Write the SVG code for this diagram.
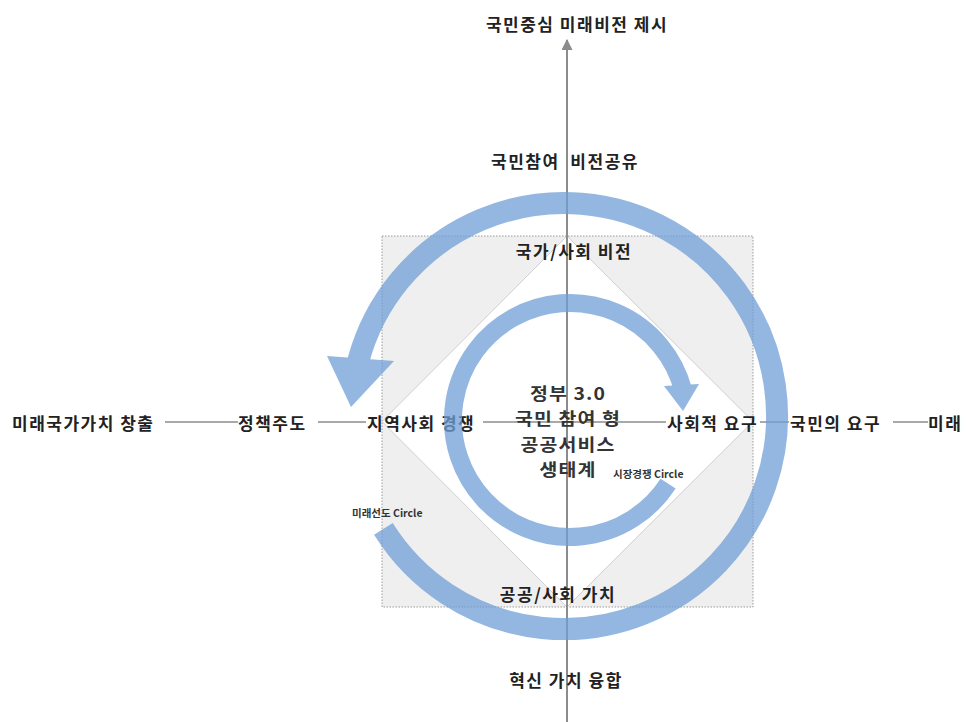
<svg xmlns="http://www.w3.org/2000/svg" width="968" height="722" viewBox="0 0 968 722">
<defs>
<style>
.lbl{font-family:"Noto Sans CJK KR","Noto Sans",sans-serif;font-weight:bold;font-size:17px;letter-spacing:1.5px;fill:#222}
.mid{text-anchor:middle}
.ctr{font-family:"Noto Sans CJK KR","Noto Sans",sans-serif;font-weight:bold;font-size:17.2px;letter-spacing:1px;fill:#333;text-anchor:middle}
.sm{font-family:"Noto Sans CJK KR","Noto Sans",sans-serif;font-weight:bold;font-size:10.5px;fill:#333}
.corner{fill:#efefef}
.diag{stroke:#cfcfcf;stroke-width:1;fill:none}
.axis{stroke:#8c8c8c;fill:none}
.ring{fill:none;stroke:#6f9fd6;stroke-linecap:butt}
</style>
<marker id="ah" viewBox="0 0 10 10" refX="9" refY="5" markerWidth="5.5" markerHeight="5.5" orient="auto" markerUnits="strokeWidth">
<path d="M0,0 L10,5 L0,10 z" fill="#8c8c8c"/>
</marker>
</defs>
<rect width="968" height="722" fill="#ffffff"/>
<g id="frame">
<polygon class="corner" points="382,236 567,236 382,421.5"/>
<polygon class="corner" points="567,236 753,236 753,421.5"/>
<polygon class="corner" points="753,421.5 753,607 567,607"/>
<polygon class="corner" points="382,421.5 382,607 567,607"/>
<polygon class="diag" points="567,236 753,421.5 567,607 382,421.5"/>
<rect x="382" y="236" width="371" height="371" fill="none" stroke="#9a9a9a" stroke-width="1" stroke-dasharray="1.5 1.5"/>
</g>
<g id="connectors">
<line class="axis" x1="567" y1="722" x2="567" y2="40" stroke-width="2" marker-end="url(#ah)"/>
<line class="axis" x1="165" y1="422" x2="238" y2="422" stroke-width="1.5"/>
<line class="axis" x1="318" y1="422" x2="366" y2="422" stroke-width="1.5"/>
<line class="axis" x1="483" y1="422" x2="666" y2="422" stroke-width="1.5"/>
<line class="axis" x1="760" y1="422" x2="789" y2="422" stroke-width="1.5"/>
<line class="axis" x1="893" y1="422" x2="928" y2="422" stroke-width="1.5"/>
</g>
<g id="label-top"><text class="lbl mid" x="577" y="31">국민중심 미래비전 제시</text></g>
<g id="label-vision-share"><text class="lbl mid" x="565" y="168" xml:space="preserve">국민참여  비전공유</text></g>
<g id="label-nation-vision"><text class="lbl mid" x="574" y="258">국가/사회 비전</text></g>
<g id="label-future-value"><text class="lbl" x="12" y="430">미래국가가치 창출</text></g>
<g id="label-policy"><text class="lbl" x="238" y="430">정책주도</text></g>
<g id="label-local"><text class="lbl" x="367" y="430">지역사회 경쟁</text></g>
<g id="label-social-need"><text class="lbl" x="667" y="430">사회적 요구</text></g>
<g id="label-citizen-need"><text class="lbl" x="790" y="430">국민의 요구</text></g>
<g id="label-future-right"><text class="lbl" x="928" y="430">미래</text></g>
<g id="label-public-value"><text class="lbl mid" x="558" y="601">공공/사회 가치</text></g>
<g id="label-innovation"><text class="lbl mid" x="566" y="687">혁신 가치 융합</text></g>
<g id="label-center">
<text class="ctr" transform="translate(568,400) scale(1.13,1)">정부 3.0</text>
<text class="ctr" transform="translate(568,425.4) scale(1.13,1)">국민 참여 형</text>
<text class="ctr" transform="translate(568,450.8) scale(1.13,1)">공공서비스</text>
<text class="ctr" transform="translate(568,476.2) scale(1.13,1)">생태계</text>
</g>
<g id="label-market-circle"><text class="sm" x="613" y="478">시장경쟁 Circle</text></g>
<g id="label-future-circle"><text class="sm" x="352" y="517">미래선도 Circle</text></g>
<g id="cycles" opacity="0.75">
<g id="outer-cycle">
<path class="ring" stroke-width="22" d="M 383.4 528.9 A 213 213 0 1 0 358.3 360.9"/>
<polygon points="327,356 394,361 351,407" fill="#6f9fd6"/>
</g>
<g id="inner-cycle">
<path class="ring" stroke-width="18" d="M 668.1 483.7 A 117 117 0 1 1 683.0 389.7"/>
<polygon points="664,386 699,384 683,411" fill="#6f9fd6"/>
</g>
</g>
</svg>
